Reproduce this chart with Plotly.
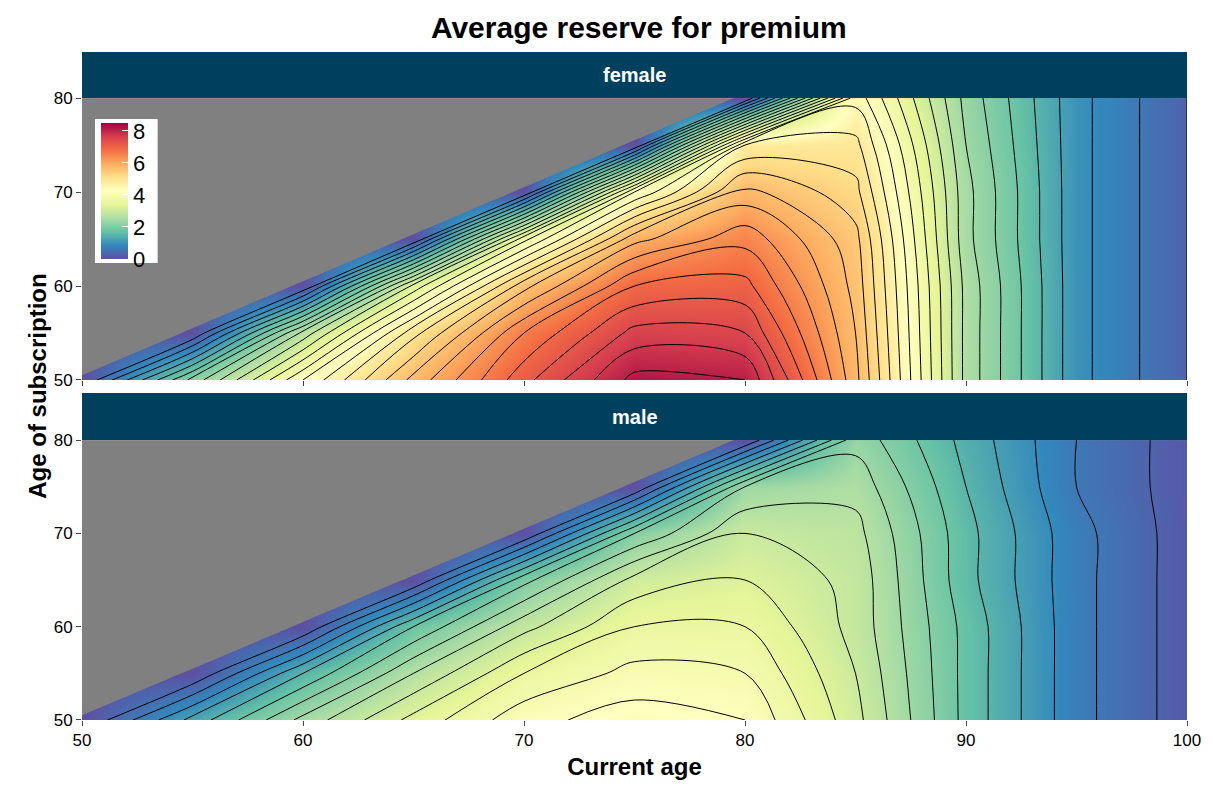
import numpy as np
import plotly.graph_objs as go
from plotly.subplots import make_subplots

# ages on the grid
current_age = [50, 55, 60, 65, 70, 75, 80, 85, 90, 95, 100]
subscription_age = [50, 55, 60, 65, 70, 75, 80]
N = None

# average reserve (None = not defined, current < subscription)
female = [
    [0, 2.2, 4.2, 5.8, 7.1, 8.2, 8.1, 5.8, 2.6, 1.0, 0.3],
    [N, 0, 2.8, 5.0, 6.6, 7.6, 7.5, 5.7, 2.6, 1.0, 0.3],
    [N, N, 0, 3.4, 5.6, 6.9, 7.0, 5.6, 2.6, 1.0, 0.3],
    [N, N, N, 0, 3.8, 5.9, 6.5, 5.5, 2.5, 1.0, 0.3],
    [N, N, N, N, 0, 4.2, 5.8, 5.2, 2.5, 1.0, 0.3],
    [N, N, N, N, N, 0, 4.8, 4.9, 2.4, 1.0, 0.3],
    [N, N, N, N, N, N, 0, 4.4, 2.3, 1.0, 0.3],
]
male = [
    [0, 1.3, 2.5, 3.4, 4.1, 4.35, 4.2, 3.1, 1.7, 0.7, 0.15],
    [N, 0, 1.5, 2.7, 3.6, 4.0, 3.9, 3.0, 1.7, 0.7, 0.15],
    [N, N, 0, 1.8, 2.9, 3.6, 3.6, 2.9, 1.7, 0.7, 0.15],
    [N, N, N, 0, 2.0, 3.1, 3.3, 2.9, 1.6, 0.7, 0.15],
    [N, N, N, N, 0, 2.1, 3.0, 2.8, 1.6, 0.7, 0.15],
    [N, N, N, N, N, 0, 2.4, 2.6, 1.5, 0.6, 0.15],
    [N, N, N, N, N, N, 0, 2.3, 1.4, 0.6, 0.15],
]
scale_range = [0, 8.5]

spectral = [[0, '#5E4FA2'], [0.1, '#3288BD'], [0.2, '#66C2A5'], [0.3, '#ABDDA4'],
            [0.4, '#E6F598'], [0.5, '#FFFFBF'], [0.6, '#FEE08B'], [0.7, '#FDAE61'],
            [0.8, '#F46D43'], [0.9, '#D53E4F'], [1, '#9E0142']]

fig = make_subplots(rows=2, cols=1, shared_xaxes=True)

for i, z in enumerate([female, male]):
    fig.add_trace(go.Contour(
        x=current_age, y=subscription_age, z=z,
        colorscale=spectral, zmin=scale_range[0], zmax=scale_range[1],
        connectgaps=False, showscale=False,
        contours=dict(start=0.3, end=9, size=0.3, coloring='heatmap'),
        line=dict(color='black', width=1)),
        row=i + 1, col=1)

# colour bar alone (no visible points)
fig.add_trace(go.Scatter(
    x=[None, None], y=[None, None], mode='markers', hoverinfo='skip',
    marker=dict(color=scale_range, colorscale=spectral, cmin=scale_range[0],
                cmax=scale_range[1], showscale=True,
                colorbar=dict(x=0.012, xanchor='left', y=0.9, yanchor='top', len=0.215,
                              thickness=27, bgcolor='white', tickvals=[0, 2, 4, 6, 8],
                              tickfont=dict(size=22, color='black'), outlinewidth=0,
                              ticks='inside', tickcolor='white', ticklen=6,
                              xpad=6, ypad=4))),
    row=1, col=1)

fig.update_layout(
    width=1213, height=792, showlegend=False,
    margin=dict(l=74, r=34, t=44, b=80),
    plot_bgcolor='#808080', paper_bgcolor='white',
    font=dict(family='Liberation Sans, Arial', color='black'),
    title=dict(text='<b>Average reserve for premium</b>', x=0.52, xanchor='center',
               y=0.975, yref='container', yanchor='middle', font=dict(size=30)),
    xaxis=dict(domain=[0, 1]),
    yaxis=dict(domain=[0.509, 0.931]),
    xaxis2=dict(domain=[0, 1]),
    yaxis2=dict(domain=[0, 0.419]),
)
fig.update_xaxes(range=[50, 100], showgrid=False, zeroline=False, ticks='outside',
                 tickfont=dict(size=17), tickvals=[50, 60, 70, 80, 90, 100],
                 automargin=False)
fig.update_xaxes(title=dict(text='<b>Current age</b>', font=dict(size=24), standoff=8),
                 row=2, col=1)
fig.update_yaxes(range=[50, 80], showgrid=False, zeroline=False, ticks='outside',
                 tickfont=dict(size=17), tickvals=[50, 60, 70, 80], automargin=False)

# facet strips
for label, y0, y1 in [('female', 0.931, 1.0), ('male', 0.419, 0.4895)]:
    fig.add_shape(type='rect', xref='paper', yref='paper', x0=0, x1=1, y0=y0, y1=y1,
                  fillcolor='#00405F', line=dict(width=0))
    fig.add_annotation(text='<b>%s</b>' % label, xref='paper', yref='paper', x=0.5,
                       y=(y0 + y1) / 2, yanchor='middle', showarrow=False,
                       font=dict(size=20, color='white'))

fig.add_annotation(text='<b>Age of subscription</b>', xref='paper', yref='paper',
                   x=-0.055, y=0.5, textangle=-90, showarrow=False,
                   font=dict(size=24))

fig.write_html('out.html')
